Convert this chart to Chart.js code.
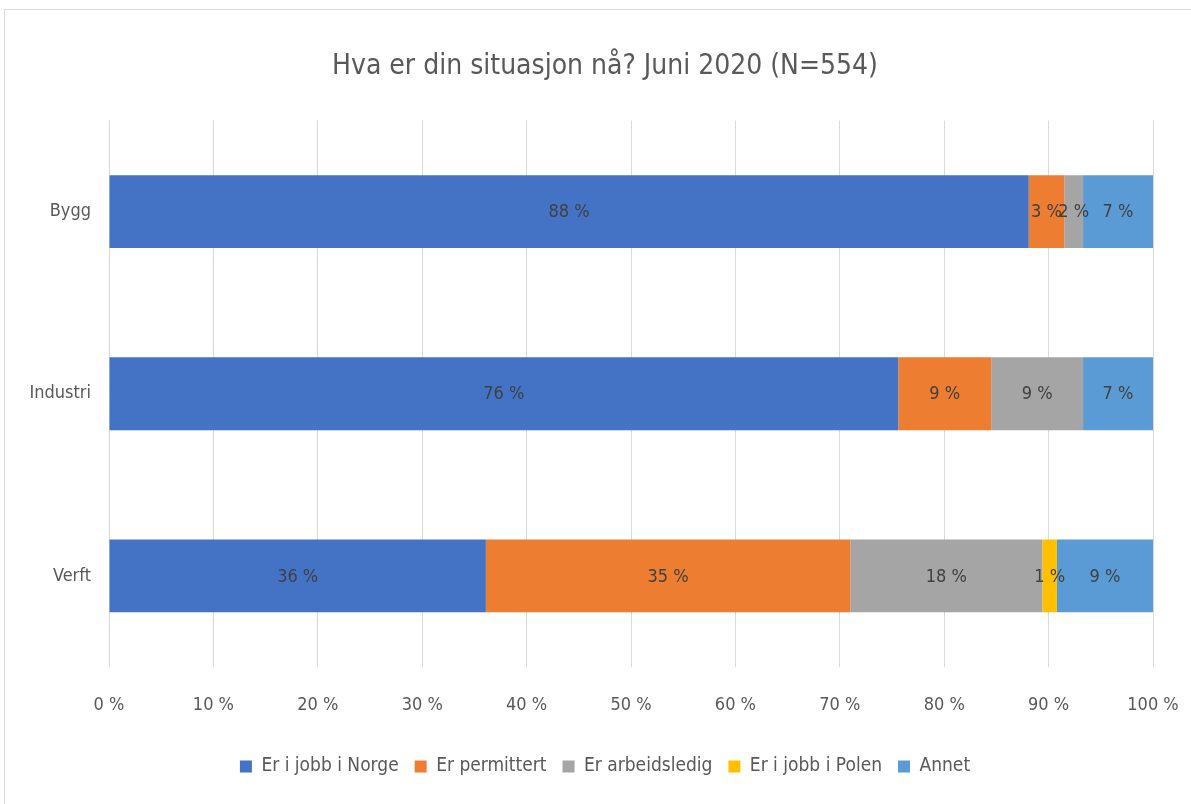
<!DOCTYPE html>
<html lang="no">
<head>
<meta charset="utf-8">
<title>Hva er din situasjon nå?</title>
<script src="https://cdn.jsdelivr.net/npm/chart.js@4/dist/chart.umd.min.js"></script>
<style>
  html, body { margin: 0; padding: 0; background: #fff; }
  body { width: 1191px; height: 804px; position: relative; overflow: hidden; }
  #frame { position: absolute; left: 4px; top: 9px; width: 1300px; height: 1000px; border: 1px solid #d9d9d9; }
  #wrap { position: absolute; left: 0; top: 0; width: 1191px; height: 804px; }
</style>
</head>
<body>
<div id="frame"></div>
<div id="wrap"><canvas id="chart" width="1191" height="804"></canvas></div>
<script>
// data (share of answers, %)
const categories = ["Bygg", "Industri", "Verft"];
const jobbNorge = [88.1, 75.6, 36.1];
const permittert = [3.4, 8.9, 34.9];
const arbeidsledig = [1.8, 8.8, 18.4];
const jobbPolen = [0, 0, 1.4];
const annet = [6.7, 6.7, 9.2];
const xTicks = [0, 10, 20, 30, 40, 50, 60, 70, 80, 90, 100];

const FONT = "'Liberation Sans Narrow', 'DejaVu Sans Condensed', 'Liberation Sans', sans-serif";

// labels in the middle of each bar piece
const segmentLabels = {
  id: "segmentLabels",
  afterDatasetsDraw(chart) {
    const ctx = chart.ctx;
    ctx.save();
    ctx.font = "18px " + FONT;
    ctx.fillStyle = "#404040";
    ctx.textAlign = "center";
    ctx.textBaseline = "middle";
    chart.data.datasets.forEach((ds, i) => {
      const meta = chart.getDatasetMeta(i);
      meta.data.forEach((bar, j) => {
        const v = ds.data[j];
        if (!v) return;
        const cx = (bar.x + bar.base) / 2;
        ctx.fillText(Math.round(v) + " %", cx, bar.y + 1);
      });
    });
    ctx.restore();
  }
};

// category names left of the plot (the y scale box is kept narrow so the
// title and legend sit where they do in the original, and it would clip them)
const categoryLabels = {
  id: "categoryLabels",
  afterDraw(chart) {
    const ctx = chart.ctx;
    const yScale = chart.scales.y;
    ctx.save();
    ctx.font = "18px " + FONT;
    ctx.fillStyle = "#595959";
    ctx.textAlign = "right";
    ctx.textBaseline = "middle";
    chart.data.labels.forEach((lab, i) => {
      ctx.fillText(lab, chart.chartArea.left - 18, yScale.getPixelForTick(i));
    });
    ctx.restore();
  }
};

const chart = new Chart(document.getElementById("chart"), {
  type: "bar",
  data: {
    labels: categories,
    datasets: [
      { label: "Er i jobb i Norge", data: jobbNorge, backgroundColor: "#4472C4" },
      { label: "Er permittert", data: permittert, backgroundColor: "#ED7D31" },
      { label: "Er arbeidsledig", data: arbeidsledig, backgroundColor: "#A5A5A5" },
      { label: "Er i jobb i Polen", data: jobbPolen, backgroundColor: "#FFC000" },
      { label: "Annet", data: annet, backgroundColor: "#5B9BD5" }
    ]
  },
  options: {
    indexAxis: "y",
    responsive: false,
    animation: false,
    layout: { padding: { left: 57, right: 38, top: 0, bottom: 18 } },
    datasets: { bar: { barPercentage: 0.4, categoryPercentage: 1, borderWidth: 0 } },
    scales: {
      x: {
        stacked: true,
        min: 0,
        max: 100,
        afterBuildTicks(scale) { scale.ticks = xTicks.map(v => ({ value: v })); },
        afterFit(scale) {
          scale.height = 74;
          scale.paddingLeft = 0;
          scale.paddingRight = 0;
        },
        grid: { color: "#d9d9d9", lineWidth: 1, drawTicks: false },
        border: { display: false },
        ticks: {
          padding: 28,
          color: "#595959",
          font: { family: FONT, size: 18 },
          callback: v => v + " %"
        }
      },
      y: {
        stacked: true,
        afterFit(scale) { scale.width = 52; },
        grid: { display: false, drawTicks: false },
        border: { display: false },
        ticks: { display: false }
      }
    },
    plugins: {
      title: {
        display: true,
        text: "Hva er din situasjon nå? Juni 2020 (N=554)",
        color: "#595959",
        font: { family: FONT, size: 28, weight: "normal" },
        padding: { top: 50, bottom: 37 }
      },
      legend: {
        position: "bottom",
        labels: {
          boxWidth: 12,
          boxHeight: 12,
          padding: 16,
          color: "#595959",
          font: { family: FONT, size: 19 }
        }
      },
      tooltip: { enabled: false }
    }
  },
  plugins: [segmentLabels, categoryLabels]
});
</script>
</body>
</html>
